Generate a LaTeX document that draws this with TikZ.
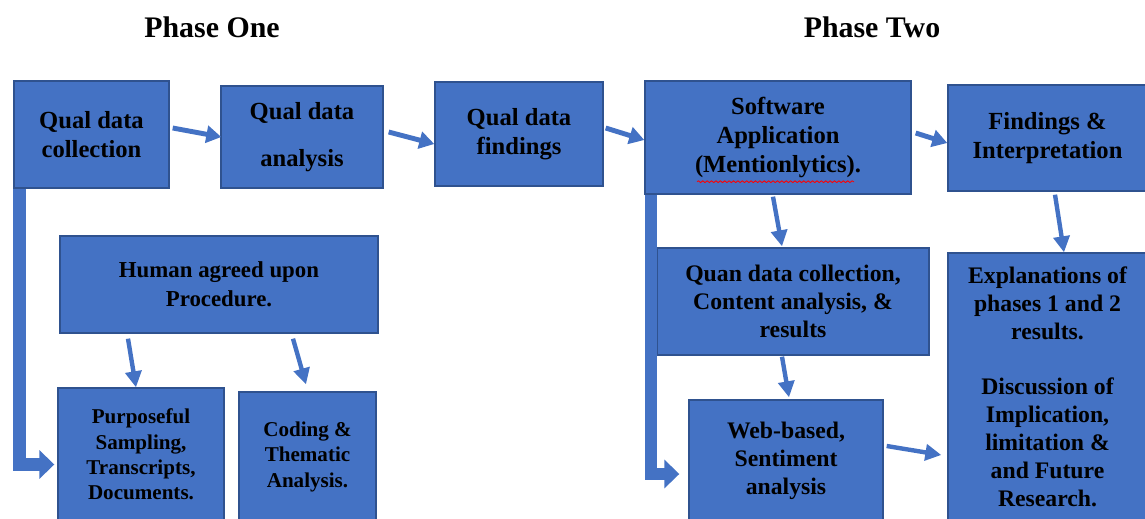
\documentclass[tikz,border=0pt]{standalone}
\usepackage{fontspec}
\setmainfont{Liberation Serif}
\usetikzlibrary{arrows.meta,calc,decorations.pathmorphing}

\definecolor{boxblue}{HTML}{4472C4}
\definecolor{boxedge}{HTML}{2F528F}

\begin{document}
\begin{tikzpicture}[x=0.02cm, y=-0.02cm,
  box/.style={draw=boxedge, line width=0.8pt, fill=boxblue, align=center,
    inner sep=0pt, font=\bfseries\fontsize{14}{16.5}\selectfont},
  midtext/.style={font=\bfseries\fontsize{13.5}{16}\selectfont},
  smalltext/.style={font=\bfseries\fontsize{12}{14.5}\selectfont},
  flow/.style={draw=boxblue, line width=2.8pt, -{Triangle[length=0.3cm, width=0.34cm]}},
  drop/.style={draw=boxblue, line width=2.5pt, -{Triangle[length=0.32cm, width=0.32cm]}},
  feed/.style={draw=boxblue, line width=7.2pt, -{Triangle[length=0.3cm, width=0.56cm]}}
]
\useasboundingbox (0,0) rectangle (1145,518);

%------------------ PHASE ONE ------------------%
\node[font=\bfseries\fontsize{17}{20}\selectfont] (PhaseOne) at (212,27) {Phase One};

\node[box, minimum width=3.10cm, minimum height=2.14cm] (QualCol) at (91.5,134.5)
  {Qual data\\collection};
\node[box, minimum width=3.24cm, minimum height=2.04cm] (QualAna) at (302,137)
  {Qual data\\[10pt]analysis};
\node[box, minimum width=3.36cm, minimum height=2.08cm] (QualFind) at (519,134)
  {Qual data\\findings};

\node[box, font=\bfseries\fontsize{13}{16.5}\selectfont,
  minimum width=6.36cm, minimum height=1.94cm] (Human) at (219,284.5)
  {Human agreed upon\\Procedure.};
\node[box, smalltext, minimum width=3.32cm, minimum height=2.66cm] (Purp) at (141,454.5)
  {Purposeful\\Sampling,\\Transcripts,\\Documents.};
\node[box, smalltext, minimum width=2.74cm, minimum height=2.58cm] (Coding) at (307.5,456.5)
  {Coding \&\\Thematic\\Analysis.};

\draw[flow] ($(QualCol.east)+(3,-6.5)$) -- ($(QualAna.west)+(1,0)$);
\draw[flow] ($(QualAna.east)+(5,-5)$) -- ($(QualFind.west)+(0,10)$);
\draw[drop] ($(Human.south)+(-91,5)$) -- ($(Purp.north)+(-5,0)$);
\draw[drop] ($(Human.south)+(74,5)$) -- ($(Coding.north)+(-1.5,-7)$);
\draw[feed] ($(QualCol.south west)+(6.5,0)$) |- ($(Purp.west)+(-3,10)$);

%------------------ PHASE TWO ------------------%
\node[font=\bfseries\fontsize{17}{20}\selectfont] (PhaseTwo) at (872,27) {Phase Two};

\node[box, minimum width=5.32cm, minimum height=2.26cm] (SoftApp) at (778,137.5)
  {Software\\Application\\(Mentionlytics).};
\node[box, minimum width=3.98cm, minimum height=2.12cm] (FindInt) at (1047.5,138)
  {Findings \&\\Interpretation};
\node[box, midtext, minimum width=5.44cm, minimum height=2.14cm] (QuanCol) at (793,301.5)
  {Quan data collection,\\Content analysis, \&\\results};
\node[box, midtext, minimum width=3.88cm, minimum height=2.42cm] (WebSent) at (786,460.5)
  {Web-based,\\Sentiment\\analysis};
\node[box, midtext, minimum width=3.98cm, minimum height=5.36cm] (Explain) at (1047.5,387)
  {Explanations of\\phases 1 and 2\\results.\\[15pt]Discussion of\\Implication,\\limitation \&\\and Future\\Research.};

% spell-check underline
\draw[red, line width=0.5pt, decorate, decoration={snake, amplitude=0.5pt, segment length=2.5pt}]
  ($(SoftApp.south)+(-81,-13)$) -- ($(SoftApp.south)+(76,-13)$);

\draw[flow] ($(QualFind.east)+(2,-6)$) -- ($(SoftApp.west)+(0,2.5)$);
\draw[flow] ($(SoftApp.east)+(4,-4.5)$) -- ($(FindInt.west)+(0,5)$);
\draw[drop] ($(SoftApp.south)+(-5,2)$) -- ($(QuanCol.north)+(-11,-1)$);
\draw[drop] ($(QuanCol.south)+(-11,1)$) -- ($(WebSent.north)+(3,-2)$);
\draw[drop] ($(FindInt.south)+(7.5,3)$) -- ($(Explain.north)+(16.5,0)$);
\draw[drop] ($(WebSent.east)+(3,-14.5)$) -- ($(Explain.west)+(-6,68)$);
\draw[feed] ($(SoftApp.south west)+(6.5,0)$) |- ($(WebSent.west)+(-9,13.5)$);

\end{tikzpicture}
\end{document}
